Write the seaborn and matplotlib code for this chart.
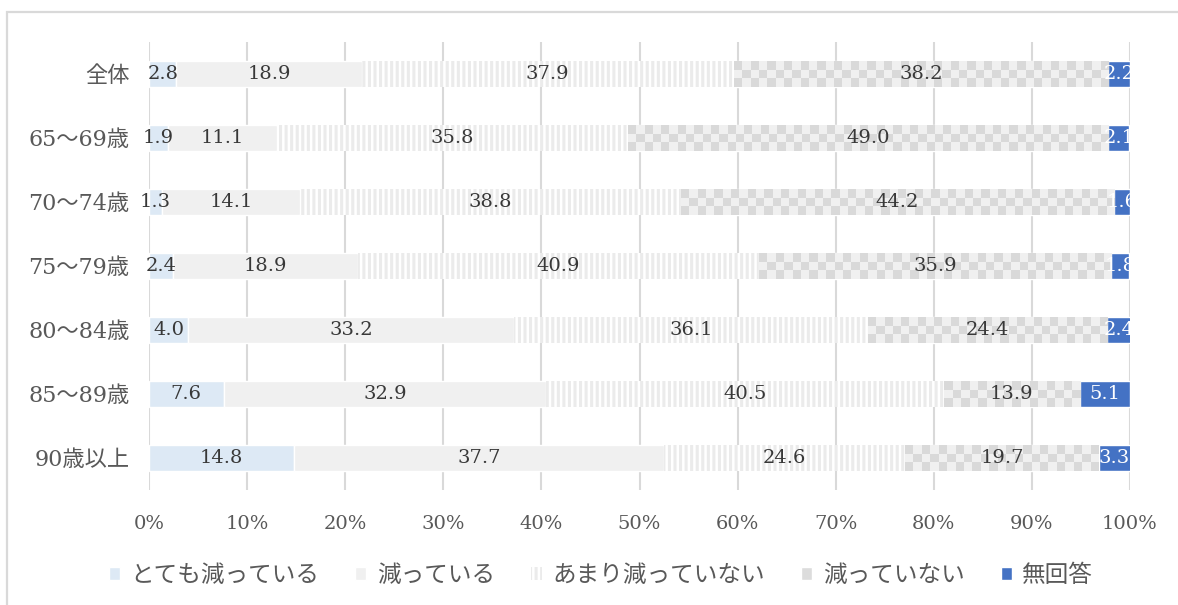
import numpy as np
import pandas as pd
import matplotlib
matplotlib.use("Agg")
import matplotlib.pyplot as plt
import seaborn as sns
from matplotlib.patches import Patch, Rectangle
from matplotlib.colors import ListedColormap
from matplotlib.transforms import Bbox, TransformedBbox

# data
groups = ["全体", "65～69歳", "70～74歳", "75～79歳", "80～84歳", "85～89歳", "90歳以上"]
answers = ["とても減っている", "減っている", "あまり減っていない", "減っていない", "無回答"]
very_reduced = [2.8, 1.9, 1.3, 2.4, 4.0, 7.6, 14.8]
reduced = [18.9, 11.1, 14.1, 18.9, 33.2, 32.9, 37.7]
not_much = [37.9, 35.8, 38.8, 40.9, 36.1, 40.5, 24.6]
not_reduced = [38.2, 49.0, 44.2, 35.9, 24.4, 13.9, 19.7]
no_answer = [2.2, 2.1, 1.6, 1.8, 2.4, 5.1, 3.3]
xticks = np.arange(0, 101, 10)

df = pd.DataFrame(
    {"group": groups, answers[0]: very_reduced, answers[1]: reduced,
     answers[2]: not_much, answers[3]: not_reduced, answers[4]: no_answer}
).set_index("group")

sns.set_theme(style="white")
plt.rcParams["font.family"] = ["DejaVu Serif", "Noto Sans CJK JP", "DejaVu Sans"]
plt.rcParams["hatch.linewidth"] = 2.2

styles = {
    answers[0]: dict(color="#dde9f5"),
    answers[1]: dict(color="#f0f0f0"),
    answers[2]: dict(color="white", edgecolor="#ebebeb", hatch="|||", linewidth=0),
    answers[3]: dict(color="#efefef"),
    answers[4]: dict(color="#4472c4"),
}

fig = plt.figure(figsize=(11.78, 6.05), dpi=100)
ax = fig.add_axes([149 / 1178, 1 - 490 / 605, 981 / 1178, 448 / 605])

# outer chart frame (only top and left edges fall inside the picture)
fig.add_artist(Rectangle((7 / 1178, -0.5), 2.0, 1.5 - 12 / 605,
                         transform=fig.transFigure, fill=False,
                         edgecolor="#d9d9d9", linewidth=1.6))

ypos = np.arange(len(groups))
left = np.zeros(len(groups))
clip = TransformedBbox(Bbox.from_extents(-10, -1, 100, 7), ax.transData)
checker_cmap = ListedColormap(["#d9d9d9", "#f0f0f0"])

for ans in answers:
    vals = df[ans].values
    bars = ax.barh(ypos, vals, left=left, height=0.4, zorder=2, **styles[ans])
    if ans == answers[3]:
        # checkerboard fill
        for p in bars.patches:
            x0, y0 = p.get_x(), p.get_y()
            w, h = p.get_width(), p.get_height()
            ncols = max(1, int(round(w / 0.85)))
            board = np.indices((3, ncols)).sum(axis=0) % 2
            im = ax.imshow(board, cmap=checker_cmap, extent=[x0, x0 + w, y0 + h, y0],
                           aspect="auto", interpolation="nearest", zorder=2.5)
            im.set_clip_path(p)
    tc = "white" if ans == answers[4] else "#383838"
    labels = ax.bar_label(bars, fmt="%.1f", label_type="center", fontsize=14,
                          color=tc, zorder=4)
    for t in labels:
        t.set_clip_box(clip)
        t.set_clip_on(True)
    left += vals

ax.set_xlim(0, 100)
ax.set_ylim(len(groups) - 0.5, -0.5)
ax.set_yticks(ypos)
ax.set_yticklabels(groups, fontsize=16, color="#595959")
ax.set_xticks(xticks)
ax.set_xticklabels([f"{v}%" for v in xticks], fontsize=14, color="#595959")
ax.tick_params(axis="y", length=0, pad=14)
ax.tick_params(axis="x", length=0, pad=18)
ax.grid(axis="x", color="#d9d9d9", linewidth=1.5, zorder=0)
ax.grid(axis="y", visible=False)
ax.set_axisbelow(True)
for s in ax.spines.values():
    s.set_visible(False)
ax.set_xlabel("")
ax.set_ylabel("")

handles = [
    Patch(facecolor="#dde9f5"),
    Patch(facecolor="#f0f0f0"),
    Patch(facecolor="white", edgecolor="#ebebeb", hatch="|||", linewidth=0),
    Patch(facecolor="#dcdcdc"),
    Patch(facecolor="#4472c4"),
]
fig.legend(handles, answers, loc="center", bbox_to_anchor=(601 / 1178, 1 - 575 / 605),
           ncol=5, frameon=False, fontsize=17, labelcolor="#595959",
           handlelength=0.47, handleheight=0.47, handletextpad=0.45, columnspacing=1.52)

fig.savefig("out.png", dpi=100)
